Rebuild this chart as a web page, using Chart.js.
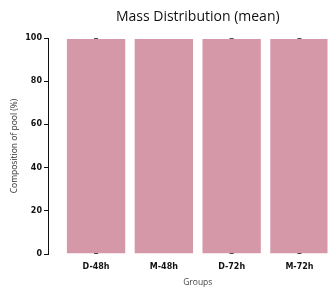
<!DOCTYPE html>
<html>
<head>
<meta charset="utf-8">
<script src="https://cdn.jsdelivr.net/npm/chart.js@4"></script>
<style>
  html, body { margin: 0; padding: 0; background: #fff; }
  #wrap { width: 333px; height: 293px; }
</style>
</head>
<body>
<div id="wrap"><canvas id="chart"></canvas></div>
<script>
const groups = ["D-48h", "M-48h", "D-72h", "M-72h"];
const poolShare = [100, 100, 100, 100];
// error caps (mean +/- sd), null where no cap is drawn
const capsTop = [100, null, 100, 100];
const capsBottom = [0, null, 0, 0];
const yTicks = [0, 20, 40, 60, 80, 100];

const BAR_COLOR = "#d498a9";
const tickFont = { family: "DejaVu Sans", size: 8, weight: "bold" };

const capPoints = [];
groups.forEach((g, i) => {
  if (capsTop[i] !== null) capPoints.push({ x: i, y: capsTop[i] });
  if (capsBottom[i] !== null) capPoints.push({ x: i, y: capsBottom[i] });
});

// title and x label are centred on the axes box (-0.5 .. 3.5), not on the canvas
const axesTexts = {
  id: "axesTexts",
  afterDraw(chart) {
    const { ctx, scales } = chart;
    const cx = scales.x.getPixelForValue(1.5);
    ctx.save();
    ctx.textAlign = "center";
    ctx.textBaseline = "middle";
    ctx.fillStyle = "#111";
    ctx.font = "14px 'Open Sans'";
    ctx.fillText("Mass Distribution (mean)", cx, 17);
    ctx.fillStyle = "#444";
    ctx.font = "8.5px 'Open Sans'";
    ctx.fillText("Groups", cx, 283);
    ctx.restore();
  },
};

new Chart(document.getElementById("chart"), {
  type: "bar",
  data: {
    datasets: [
      {
        type: "scatter",
        data: capPoints,
        pointStyle: "line",
        pointRadius: 2,
        borderColor: "#111",
        borderWidth: 1.5,
        order: 0,
      },
      {
        data: poolShare.map((v, i) => ({ x: i, y: v })),
        backgroundColor: BAR_COLOR,
        borderColor: "rgba(255,255,255,0.45)",
        borderWidth: 1,
        barPercentage: 0.89,
        categoryPercentage: 1,
        order: 1,
      },
    ],
  },
  options: {
    responsive: true,
    maintainAspectRatio: false,
    animation: false,
    layout: { padding: { top: 38, right: 0, left: 0, bottom: 0 } },
    plugins: {
      legend: { display: false },
      tooltip: { enabled: false },
    },
    scales: {
      x: {
        type: "linear",
        offset: false,
        min: -0.709,
        max: 3.414,
        afterBuildTicks: (s) => { s.ticks = groups.map((g, i) => ({ value: i })); },
        grid: { display: false, drawTicks: false },
        border: { display: false },
        ticks: {
          autoSkip: false,
          maxRotation: 0,
          padding: 8,
          color: "#111",
          font: tickFont,
          callback: (v) => groups[v],
        },
        afterFit: (s) => {
          s.height = 39;
          s.paddingLeft = 0;
          s.paddingRight = 0;
        },
      },
      y: {
        min: 0,
        max: 100,
        afterBuildTicks: (s) => { s.ticks = yTicks.map((v) => ({ value: v })); },
        grid: { drawOnChartArea: false, tickLength: 4, tickColor: "#111", tickWidth: 1 },
        border: { display: true, color: "#111", width: 1 },
        ticks: { color: "#111", font: tickFont, padding: 2 },
        title: {
          display: true,
          text: "Composition of pool (%)",
          color: "#333",
          font: { family: "Open Sans", size: 8.5 },
          padding: { top: 9, bottom: 4 },
        },
        afterFit: (s) => { s.width = 48; },
      },
    },
  },
  plugins: [axesTexts],
});
</script>
</body>
</html>
